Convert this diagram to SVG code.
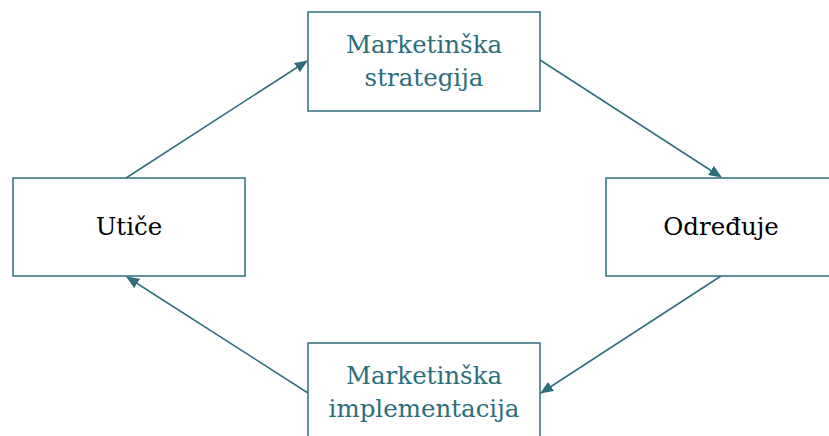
<svg xmlns="http://www.w3.org/2000/svg" width="829" height="436" viewBox="0 0 829 436">
<style>
.box{fill:#fff;stroke:#2E6E7C;stroke-width:1.5}
.t{font-family:"DejaVu Serif","Liberation Serif",serif;font-size:24.5px;text-anchor:middle}
.teal{fill:#2C6E7B}
.blk{fill:#000}
.c{stroke:#2E6E7C;stroke-width:1.5;fill:none;marker-end:url(#ah)}
</style>
<defs>
<marker id="ah" viewBox="0 0 13 11" refX="12" refY="5.5" markerWidth="13" markerHeight="11" markerUnits="userSpaceOnUse" orient="auto">
<path d="M0,0 L13,5.5 L0,11 z" fill="#2E6E7C"/>
</marker>
</defs>
<rect width="829" height="436" fill="#fff"/>
<g id="connectors">
<line class="c" x1="126" y1="178" x2="307" y2="61"/>
<line class="c" x1="540" y1="60" x2="721" y2="177"/>
<line class="c" x1="721" y1="276" x2="541" y2="393"/>
<line class="c" x1="308" y1="393" x2="127" y2="277"/>
</g>
<g id="strategija">
<rect class="box" x="308" y="12" width="232" height="99"/>
<text class="t teal" x="424" y="53">Marketinška</text>
<text class="t teal" x="424" y="86">strategija</text>
</g>
<g id="utice">
<rect class="box" x="13" y="178" width="232" height="98"/>
<text class="t blk" x="129" y="235">Utiče</text>
</g>
<g id="odredjuje">
<rect class="box" x="606" y="178" width="232" height="98"/>
<text class="t blk" x="721" y="235">Određuje</text>
</g>
<g id="implementacija">
<rect class="box" x="308" y="343" width="232" height="99"/>
<text class="t teal" x="424" y="384">Marketinška</text>
<text class="t teal" x="424" y="417">implementacija</text>
</g>
</svg>
